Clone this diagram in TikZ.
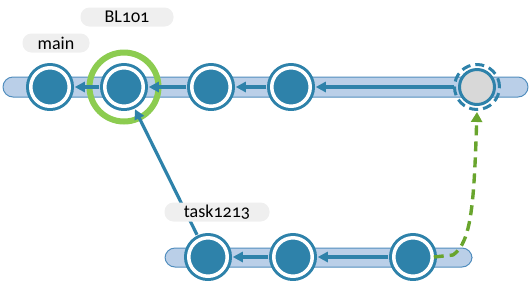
\documentclass[tikz,border=0pt]{standalone}
\usepackage{fontspec}
\setmainfont[Numbers=OldStyle]{Carlito}
\usetikzlibrary{arrows.meta}

\definecolor{cCommit}{RGB}{46, 130, 170}
\definecolor{cBar}{RGB}{186, 207, 232}
\definecolor{cBarEdge}{RGB}{82, 142, 190}
\definecolor{cLabel}{RGB}{239, 239, 239}
\definecolor{cRing}{RGB}{140, 204, 80}
\definecolor{cMerge}{RGB}{105, 165, 45}
\definecolor{cPending}{RGB}{216, 216, 216}

\tikzset{
  commit/.style={circle, inner sep=0pt, minimum size=38.5pt, fill=cCommit,
    draw=cCommit, line width=3pt, double=white, double distance=3.5pt},
  pending/.style={circle, inner sep=0pt, minimum size=35pt, fill=cPending,
    draw=cCommit, line width=3pt},
  bar/.style={fill=cBar, draw=cBarEdge, line width=1pt, rounded corners=10pt},
  tag/.style={fill=cLabel, rounded corners=9pt, inner sep=0pt,
    minimum height=19pt, font=\fontsize{18}{18}\selectfont},
  link/.style={draw=cCommit, line width=3.2pt,
    -{Triangle[length=10pt, width=10pt]}, shorten >=4pt, shorten <=4pt},
}

\begin{document}
\begin{tikzpicture}[x=1pt, y=-1pt, line join=round]
  \useasboundingbox (0,0) rectangle (530,285);

  % branches
  \draw[bar] (3,77) rectangle (528,97);
  \draw[bar] (165,248) rectangle (472,267);

  % main line
  \node[commit] (m1) at (50,87) {};
  \node[commit] (m2) at (124,87) {};
  \node[commit] (m3) at (211,87) {};
  \node[commit] (m4) at (291,87) {};
  \node[pending] (m5) at (477,87) {};
  \draw[cCommit, line width=3pt, dash pattern=on 9pt off 5pt] (m5.center) circle (22.5pt);
  \draw[cRing, line width=6pt] (m2.center) circle (34.5pt);

  % task line
  \node[commit] (t1) at (208,257) {};
  \node[commit] (t2) at (293,257) {};
  \node[commit] (t3) at (413,257) {};

  \path[link] (m2) -- (m1);
  \path[link] (m3) -- (m2);
  \path[link] (m4) -- (m3);
  \path[link] (m5) -- (m4);
  \path[link] (t2) -- (t1);
  \path[link] (t3) -- (t2);
  \path[link] (t1) -- (m2);

  \draw[cMerge, line width=3.4pt, dash pattern=on 10pt off 6pt,
    -{Triangle[length=10pt, width=11pt]}]
    (t3.east) -- (453,255) .. controls (472,242) and (474,200) .. (477,112);

  % labels
  \node[tag, minimum width=67pt] (lmain) at (56,43) {main};
  \node[tag, minimum width=93pt] (lbl) at (127,17) {BL101};
  \node[tag, minimum width=105pt] (ltask) at (217,212) {task1213};
\end{tikzpicture}
\end{document}
